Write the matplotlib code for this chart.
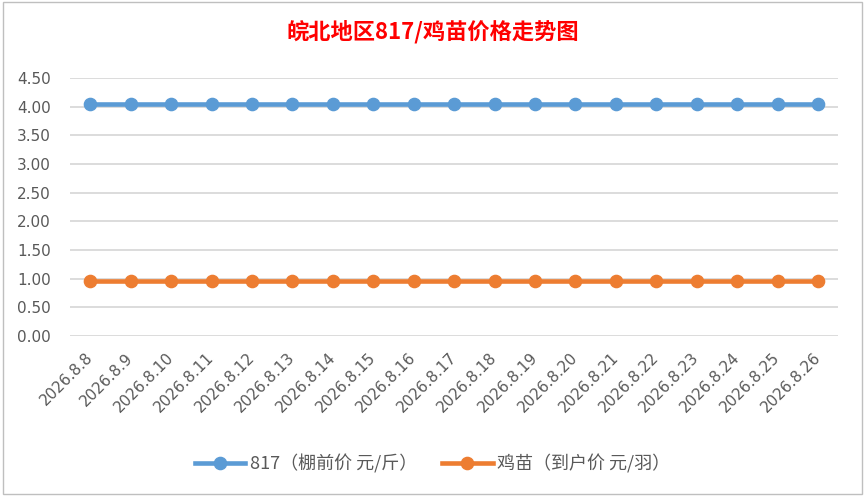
import matplotlib.pyplot as plt
from matplotlib.patches import Rectangle

plt.rcParams['font.family'] = ['Noto Sans CJK SC', 'DejaVu Sans']

# 数据
dates = ['2026.8.%d' % d for d in range(8, 27)]
price_817 = [4.05] * 19
price_chick = [0.96] * 19

label_817 = '817（棚前价 元/斤）'
label_chick = '鸡苗（到户价 元/羽）'
title = '皖北地区817/鸡苗价格走势图'

grid_color = '#D9D9D9'
text_color = '#595959'

fig = plt.figure(figsize=(8.65, 5.0), dpi=100)
ax = fig.add_axes([0.081, 0.328, 0.888, 0.516])

x = list(range(len(dates)))
ax.plot(x, price_817, color='#5B9BD5', lw=3.3, marker='o', ms=8.8, label=label_817)
ax.plot(x, price_chick, color='#ED7D31', lw=3.3, marker='o', ms=8.8, label=label_chick)

ax.set_xlim(-0.5, len(dates) - 0.5)
ax.set_ylim(0, 4.5)
ax.set_yticks([i * 0.5 for i in range(10)])
ax.set_yticklabels(['%.2f' % (i * 0.5) for i in range(10)], family='DejaVu Sans', fontsize=11, color=text_color)
ax.set_xticks(x)
ax.set_xticklabels(dates, rotation=45, ha='right', va='center', rotation_mode='anchor',
                   family='DejaVu Sans', fontsize=11, color=text_color)
ax.tick_params(axis='both', length=0)
ax.tick_params(axis='x', pad=14)
ax.tick_params(axis='y', pad=14)
ax.grid(axis='y', color=grid_color, lw=1.3)
ax.set_axisbelow(True)
for s in ax.spines.values():
    s.set_visible(False)

fig.text(0.5, 0.936, title, ha='center', va='center', color='red', fontsize=16, fontweight='bold')

fig.legend(loc='center', bbox_to_anchor=(0.5, 0.073), ncol=2, frameon=False, fontsize=13,
           labelcolor=text_color, handlelength=2.8, handletextpad=0.25, columnspacing=1.4)

# 图表边框
fig.patches.append(Rectangle((0.003, 0.012), 0.993, 0.984, transform=fig.transFigure,
                             fill=False, edgecolor='#BFBFBF', lw=1))

plt.savefig('out.png', dpi=100)
plt.close()
